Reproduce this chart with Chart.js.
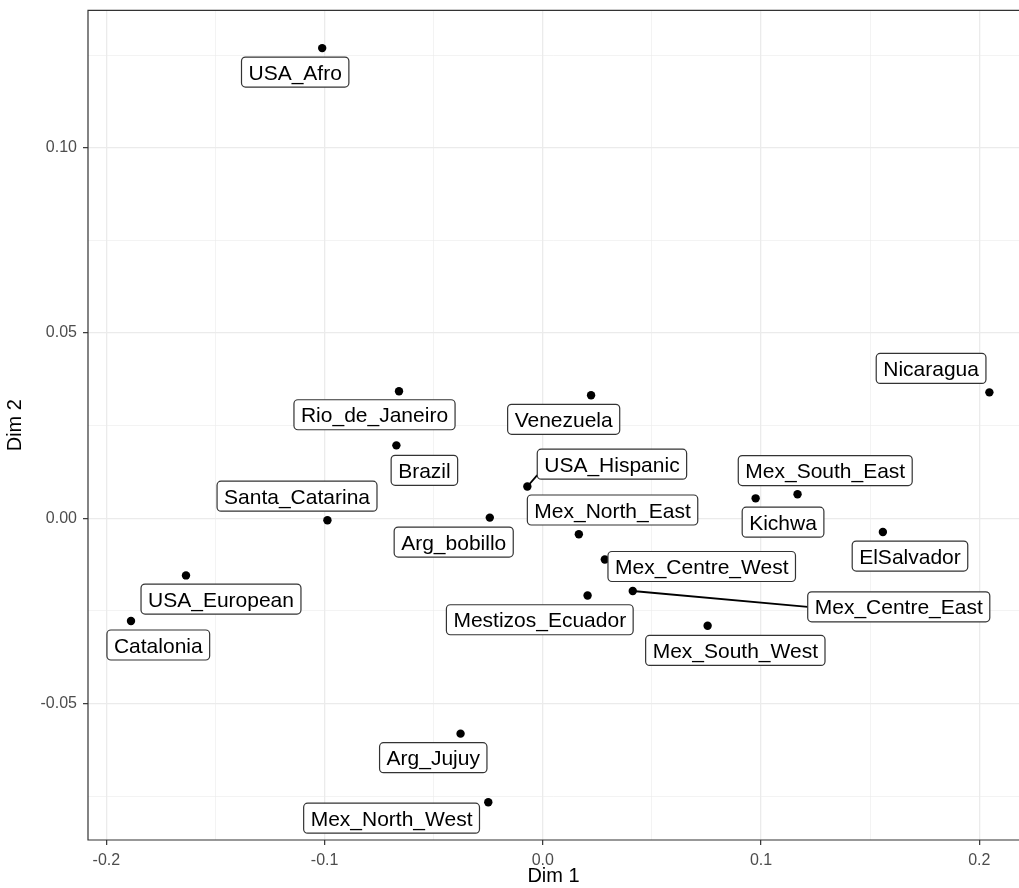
<!DOCTYPE html>
<html lang="en">

<head>
    <meta charset="UTF-8">
    <title>Dim 1 / Dim 2</title>
    <script src="https://cdn.jsdelivr.net/npm/chart.js"></script>
    <style>
        html,
        body {
            margin: 0;
            background: white;
            overflow: hidden;
        }

        #wrap {
            position: relative;
            width: 1019px;
            height: 888px;
        }
    </style>
</head>

<body>
    <div id="wrap">
        <canvas id="mdsChart"></canvas>
    </div>

    <script>
        // populations and their coordinates on the first two dimensions
        const populations = ['USA_Afro', 'Rio_de_Janeiro', 'Brazil', 'Santa_Catarina', 'USA_European', 'Catalonia',
            'Arg_Jujuy', 'Mex_North_West', 'Venezuela', 'USA_Hispanic', 'Arg_bobillo', 'Mex_North_East',
            'Mex_Centre_West', 'Mestizos_Ecuador', 'Mex_Centre_East', 'Mex_South_West', 'Nicaragua',
            'Mex_South_East', 'Kichwa', 'ElSalvador'];
        const dim1 = [-0.1011, -0.0659, -0.0671, -0.0987, -0.1635, -0.1887, -0.0377, -0.0250, 0.0221, -0.0071,
            -0.0243, 0.0165, 0.0284, 0.0205, 0.0412, 0.0755, 0.2046, 0.1167, 0.0975, 0.1558];
        const dim2 = [0.1269, 0.0343, 0.0197, -0.0005, -0.0154, -0.0277, -0.0581, -0.0766, 0.0332, 0.0086,
            0.0002, -0.0043, -0.0111, -0.0208, -0.0196, -0.0290, 0.0340, 0.0065, 0.0054, -0.0037];

        // axis breaks
        const xMajor = [-0.2, -0.1, 0, 0.1, 0.2];
        const xMinor = [-0.15, -0.05, 0.05, 0.15];
        const xTickLabels = ['-0.2', '-0.1', '0.0', '0.1', '0.2'];
        const yMajor = [-0.05, 0, 0.05, 0.10];
        const yMinor = [-0.075, -0.025, 0.025, 0.075, 0.125];
        const yTickLabels = ['-0.05', '0.00', '0.05', '0.10'];

        // where each label box sits relative to its point (px)
        const labelDx = [-27, -24.5, 28, -30.4, 35, 27.3, -27.3, -96.7, -27.4, 84.6,
            -36.1, 33.7, 96.9, -47.8, 266, 27.7, -58.3, 27.7, 27.4, 27.1];
        const labelDy = [24, 23.5, 25, -24, 23.7, 24, 24, 16, 24, -22.3,
            24.5, -24.3, 7, 24.3, 15.8, 24.6, -23.9, -23.7, 23.8, 24];

        const FONT = '"Liberation Sans", Arial, Helvetica, sans-serif';

        function majorIndex(list, v) {
            return list.findIndex(m => Math.abs(m - v) < 1e-9);
        }

        function breaks(major, minor) {
            return major.concat(minor).sort((a, b) => a - b).map(v => ({ value: v }));
        }

        function scaleOpts(major, minor, labels, title) {
            return {
                type: 'linear',
                afterBuildTicks: scale => { scale.ticks = breaks(major, minor); },
                ticks: {
                    autoSkip: false,
                    maxRotation: 0,
                    color: '#4d4d4d',
                    font: { family: FONT, size: 16 },
                    padding: 6,
                    callback: v => {
                        const i = majorIndex(major, v);
                        return i >= 0 ? labels[i] : '';
                    }
                },
                grid: {
                    color: '#ebebeb',
                    lineWidth: c => majorIndex(major, c.tick.value) >= 0 ? 1.3 : 0.6,
                    tickLength: 5,
                    tickWidth: 1.2,
                    tickColor: c => majorIndex(major, c.tick.value) >= 0 ? '#333333' : 'rgba(0,0,0,0)'
                },
                border: { display: false },
                title: {
                    display: true,
                    text: title,
                    color: '#000',
                    font: { family: FONT, size: 20 },
                    padding: { top: 3, bottom: 0 }
                }
            };
        }

        // no extra room for tick labels hanging over the panel ends
        function noOverhang(s) {
            s.paddingLeft = 0;
            s.paddingRight = 0;
            s.paddingTop = 0;
            s.paddingBottom = 0;
        }

        // panel frame; the right side runs past the page edge
        const panelBorder = {
            id: 'panelBorder',
            beforeDatasetsDraw(chart) {
                const { ctx, chartArea: a } = chart;
                ctx.save();
                ctx.strokeStyle = '#333333';
                ctx.lineWidth = 1.2;
                ctx.beginPath();
                ctx.moveTo(a.right + 5, a.top);
                ctx.lineTo(a.left, a.top);
                ctx.lineTo(a.left, a.bottom);
                ctx.lineTo(a.right + 5, a.bottom);
                ctx.stroke();
                ctx.restore();
            }
        };

        function roundRect(ctx, x, y, w, h, r) {
            ctx.beginPath();
            ctx.moveTo(x + r, y);
            ctx.arcTo(x + w, y, x + w, y + h, r);
            ctx.arcTo(x + w, y + h, x, y + h, r);
            ctx.arcTo(x, y + h, x, y, r);
            ctx.arcTo(x, y, x + w, y, r);
            ctx.closePath();
        }

        // boxed labels with a leader segment when the box is far from its point
        const boxedLabels = {
            id: 'boxedLabels',
            afterDatasetsDraw(chart) {
                const ctx = chart.ctx;
                const pts = chart.getDatasetMeta(0).data;
                ctx.save();
                ctx.font = '21px ' + FONT;
                pts.forEach((p, i) => {
                    const text = populations[i];
                    const w = ctx.measureText(text).width + 14;
                    const h = 30;
                    const cx = p.x + labelDx[i], cy = p.y + labelDy[i];
                    const x0 = cx - w / 2, y0 = cy - h / 2;
                    const x1 = x0 + w, y1 = y0 + h;

                    // gap between point and box
                    const nx = Math.max(x0, Math.min(p.x, x1));
                    const ny = Math.max(y0, Math.min(p.y, y1));
                    const gap = Math.hypot(nx - p.x, ny - p.y);
                    if (gap > 11) {
                        const tol = 3;
                        const ex = p.x < x0 - tol ? x0 : p.x > x1 + tol ? x1 : cx;
                        const ey = p.y < y0 - tol ? y0 : p.y > y1 + tol ? y1 - 4 : cy;
                        ctx.strokeStyle = '#000';
                        ctx.lineWidth = 1.8;
                        ctx.beginPath();
                        ctx.moveTo(p.x, p.y);
                        ctx.lineTo(ex, ey);
                        ctx.stroke();
                    }

                    roundRect(ctx, x0, y0, w, h, 4);
                    ctx.fillStyle = '#ffffff';
                    ctx.fill();
                    ctx.strokeStyle = '#333333';
                    ctx.lineWidth = 1.2;
                    ctx.stroke();

                    ctx.fillStyle = '#000';
                    ctx.textAlign = 'center';
                    ctx.textBaseline = 'alphabetic';
                    ctx.fillText(text, cx, cy + 0.358 * 21);
                });
                ctx.restore();
            }
        };

        const xScale = scaleOpts(xMajor, xMinor, xTickLabels, 'Dim 1');
        xScale.min = -0.2084;
        xScale.max = 0.21817;
        xScale.position = 'bottom';
        xScale.afterFit = s => { s.height = 48; noOverhang(s); };

        const yScale = scaleOpts(yMajor, yMinor, yTickLabels, 'Dim 2');
        yScale.min = -0.0868;
        yScale.max = 0.1371;
        yScale.afterFit = s => { s.width = 88; noOverhang(s); };

        new Chart(document.getElementById('mdsChart'), {
            type: 'scatter',
            data: {
                datasets: [{
                    label: 'populations',
                    data: populations.map((n, i) => ({ x: dim1[i], y: dim2[i] })),
                    backgroundColor: '#000',
                    borderWidth: 0,
                    pointRadius: 4.2
                }]
            },
            options: {
                responsive: true,
                maintainAspectRatio: false,
                animation: false,
                layout: {
                    autoPadding: false,
                    padding: { left: 0, top: 10.3, right: 0, bottom: 0 }
                },
                plugins: {
                    legend: { display: false },
                    tooltip: { enabled: false }
                },
                scales: { x: xScale, y: yScale }
            },
            plugins: [panelBorder, boxedLabels]
        });
    </script>
</body>

</html>
